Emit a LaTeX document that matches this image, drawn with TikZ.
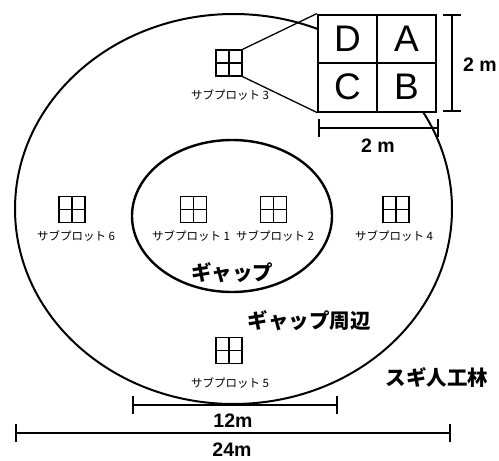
\documentclass[tikz,border=0pt]{standalone}
\usepackage{fontspec}
\setmainfont{Liberation Sans}
\newfontfamily\jp{Noto Sans CJK JP}
\usetikzlibrary{arrows.meta}
\tikzset{
  quad/.style={draw, line width=1.3pt, minimum width=26pt, minimum height=26pt, inner sep=0pt,
    path picture={\draw[line width=1.3pt] (path picture bounding box.north) -- (path picture bounding box.south)
      (path picture bounding box.west) -- (path picture bounding box.east);}},
  sublabel/.style={font=\jp\fontsize{11.5}{14}\selectfont, inner sep=0pt},
  biglabel/.style={font=\jp\bfseries\fontsize{20.5}{24}\selectfont, inner sep=0pt},
  letter/.style={font=\fontsize{37}{40}\selectfont, inner sep=0pt},
  dimlabel/.style={font=\bfseries\fontsize{19.5}{22}\selectfont, inner sep=0pt},
  bar/.style={line width=2.4pt, {Bar[width=18pt,line width=2.4pt]}-{Bar[width=18pt,line width=2.4pt]}},
  ring/.style={line width=2pt},
}
\begin{document}
\begin{tikzpicture}[x=1pt,y=-1pt]
\useasboundingbox (0,0) rectangle (499,461);
% rings
\draw[ring] (233.5,209) ellipse [x radius=218.5, y radius=195];
\draw[ring, line width=2.4pt] (232,216) ellipse [x radius=100, y radius=76];
% subplots
\node[quad] (s1) at (193.5,209.5) {};
\node[quad] (s2) at (273.5,209.5) {};
\node[quad] (s3) at (229,63) {};
\node[quad] (s4) at (396,209.5) {};
\node[quad] (s5) at (229,350.5) {};
\node[quad] (s6) at (72,209.5) {};
\node[sublabel] (l1) at (191,236) {サブプロット 1};
\node[sublabel] (l2) at (275,236) {サブプロット 2};
\node[sublabel] (l3) at (230,95) {サブプロット 3};
\node[sublabel] (l4) at (394,236) {サブプロット 4};
\node[sublabel] (l5) at (230,383) {サブプロット 5};
\node[sublabel] (l6) at (76,236) {サブプロット 6};
% big plot
\node[draw, fill=white, line width=2pt, minimum width=118pt, minimum height=97pt, inner sep=0pt,
  path picture={\draw[line width=2pt] (path picture bounding box.north) -- (path picture bounding box.south)
      (path picture bounding box.west) -- (path picture bounding box.east);}] (big) at (377,63) {};
\node[letter] (qD) at (347.5,39) {D};
\node[letter] (qA) at (406.5,39) {A};
\node[letter] (qC) at (347.5,87) {C};
\node[letter] (qB) at (406.5,87) {B};
\draw[line width=1.3pt] (s3.north east) -- (big.north west);
\draw[line width=1.3pt] (s3.south east) -- (big.south west);
% dimension bars
\coordinate (v1) at (452,14);
\coordinate (v2) at (452,112);
\draw[bar] (v1) -- (v2);
\node[dimlabel] (dv) at (480,65) {2 m};
\coordinate (h1) at (318,128);
\coordinate (h2) at (439,128);
\draw[bar] (h1) -- (h2);
\node[dimlabel] (dh) at (378,146) {2 m};
\coordinate (m1) at (132,405);
\coordinate (m2) at (338,405);
\draw[bar] (m1) -- (m2);
\node[dimlabel] (d12) at (233,421) {12m};
\coordinate (w1) at (15,433);
\coordinate (w2) at (451,433);
\draw[bar] (w1) -- (w2);
\node[dimlabel] (d24) at (232,450) {24m};
% area labels
\node[biglabel] (gap) at (232,273) {ギャップ};
\node[biglabel] (gapedge) at (309,321) {ギャップ周辺};
\node[biglabel] (sugi) at (437,377) {スギ人工林};
\end{tikzpicture}
\end{document}
